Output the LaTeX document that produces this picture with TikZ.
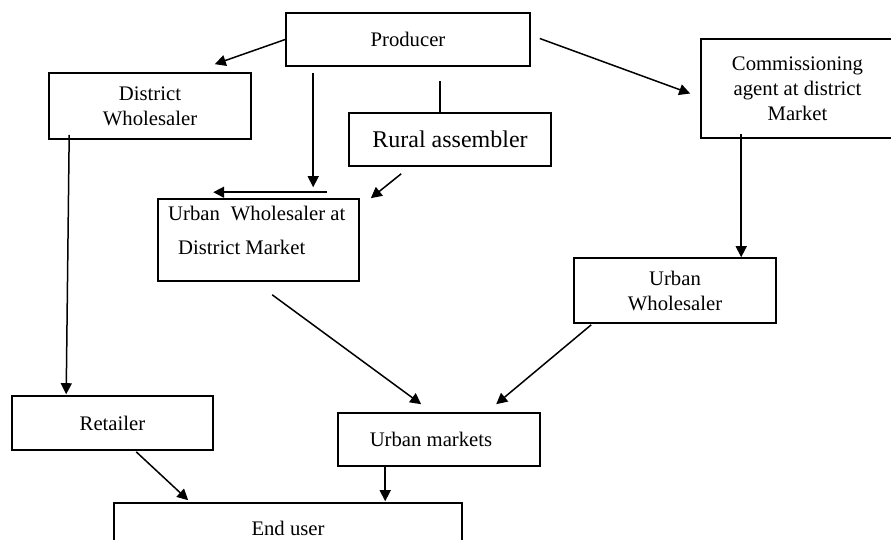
\documentclass[tikz,border=0pt]{standalone}
\usepackage{fontspec}
\setmainfont{Liberation Serif}
\usetikzlibrary{arrows.meta,calc}
\tikzset{
  box/.style={draw, line width=1.6pt, rectangle, inner sep=0pt, align=center,
    font=\fontsize{20.7}{25}\selectfont},
  lbl/.style={inner sep=0pt, font=\fontsize{20.7}{25}\selectfont},
  arr/.style={line width=1.5pt, -{Triangle[length=11pt,width=11pt]}},
  ln/.style={line width=1.5pt}
}
\begin{document}
\begin{tikzpicture}[x=1pt,y=-1pt]
\useasboundingbox (0,0) rectangle (891,539);
\clip (0,0) rectangle (891,539);
% boxes
\node[box, minimum width=244pt, minimum height=53pt] (prod) at (408,39.5) {Producer};
\node[box, minimum width=202pt, minimum height=66pt] (dw) at (150,106) {District\\Wholesaler};
\node[box, minimum width=202pt, minimum height=53pt, font=\fontsize{24}{28}\selectfont] (ra) at (450,139.5) {Rural assembler};
\node[box, minimum width=201pt, minimum height=82pt] (uwd) at (258.5,240) {};
\node[lbl, anchor=base west] (uwdt1) at (168,220) {Urban\hspace{11pt}Wholesaler at};
\node[lbl, anchor=base west] (uwdt2) at (178,254) {District Market};
\node[box, minimum width=193pt, minimum height=99pt] (ca) at (797.5,88.5) {Commissioning\\agent at district\\Market};
\node[box, minimum width=202pt, minimum height=65pt] (uw) at (675,290.5) {Urban\\Wholesaler};
\node[box, minimum width=201pt, minimum height=54pt] (ret) at (112.5,423) {Retailer};
\node[box, minimum width=202pt, minimum height=53pt] (um) at (439,439.5) {Urban markets\hspace*{16pt}};
\node[box, minimum width=348pt, minimum height=50pt] (eu) at (288,528) {End user};
% connectors
\draw[arr] (prod.west) -- ($(dw.north east)+(-37,-8)$);
\draw[arr] ($(prod.south west)+(28,6)$) -- ($(uwd.north west)+(156,-11)$);
\draw[arr] ($(uwd.north west)+(170,-6)$) -- ($(uwd.north west)+(56,-6)$);
\draw[ln] ($(ra.north west)+(92,-31)$) -- ($(ra.north west)+(92,0)$);
\draw[arr] ($(ra.south west)+(53,7)$) -- ($(uwd.north east)+(11,0)$);
\draw[arr] ($(prod.east)+(9,-1)$) -- ($(ca.west)+(-10,5)$);
\draw[arr] ($(ca.south west)+(41,-5)$) -- ($(uw.north west)+(168,0)$);
\draw[arr] ($(dw.south west)+(21,-5)$) -- ($(ret.north west)+(55,-1)$);
\draw[arr] ($(uwd.south west)+(115,13)$) -- ($(um.north west)+(84,-8)$);
\draw[arr] ($(uw.south west)+(18,1)$) -- ($(um.north west)+(159,-8)$);
\draw[arr] ($(ret.south west)+(125,1)$) -- ($(eu.north west)+(75,-2)$);
\draw[arr] ($(um.south west)+(48,0)$) -- ($(eu.north west)+(272,-1)$);
\end{tikzpicture}
\end{document}
